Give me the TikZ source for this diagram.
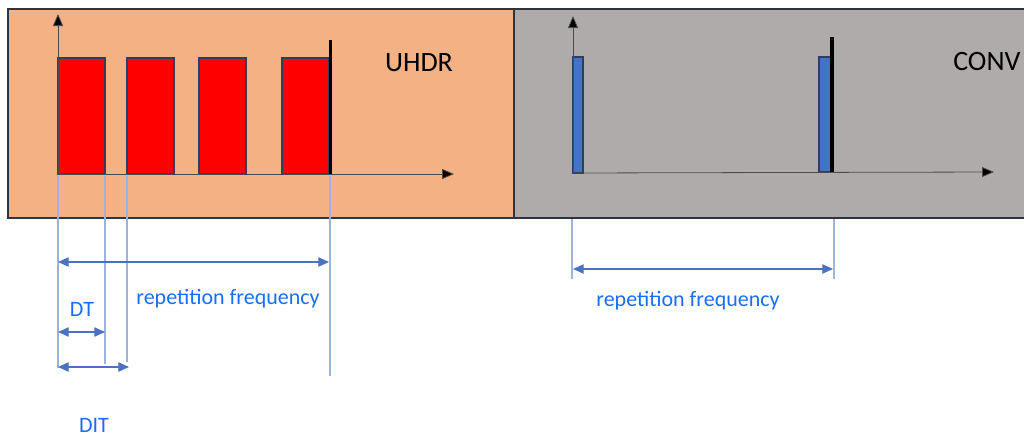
\documentclass[tikz,border=0pt]{standalone}
\usepackage{fontspec}
\setmainfont{Carlito}
\usetikzlibrary{arrows.meta}
\definecolor{panelA}{HTML}{F4B183}
\definecolor{panelB}{HTML}{AFABAB}
\definecolor{frame}{HTML}{2E3440}
\definecolor{pulseA}{HTML}{FF0000}
\definecolor{pulseB}{HTML}{4472C4}
\definecolor{pulseedge}{HTML}{2F3E5C}
\definecolor{guide}{HTML}{9DB3DE}
\definecolor{dimline}{HTML}{4A72C0}
\definecolor{labelblue}{HTML}{1A6EF5}
\tikzset{
  panel/.style={draw=frame, line width=0.9pt},
  axis/.style={draw=black!70, line width=0.6pt, -{Triangle[length=9pt,width=7.5pt,fill=black]}},
  pulse/.style={draw=pulseedge, line width=0.9pt},
  marker/.style={draw=black, line width=2.4pt},
  guideline/.style={draw=guide, line width=0.8pt},
  dimarrow/.style={draw=dimline, line width=0.9pt, {Triangle[length=8pt,width=7pt]}-{Triangle[length=8pt,width=7pt]}},
  title/.style={font=\fontsize{21}{25}\selectfont, text=black, inner sep=0pt},
  dimlabel/.style={font=\fontsize{16.5}{19}\selectfont, text=labelblue, inner sep=0pt}
}
\begin{document}
\begin{tikzpicture}[x=0.75pt, y=-0.75pt]
\useasboundingbox (0,0) rectangle (1024,436);

% panels
\path[panel, fill=panelB] (514,9) rectangle (1030,218);
\path[panel, fill=panelA] (8,9) rectangle (514,218);

% ---- UHDR panel ----
\coordinate (uo) at (58,174);
\coordinate (uy) at (58,14);
\coordinate (ux) at (454,174);
\path[pulse, fill=pulseA] (58,58) rectangle (105,174);
\path[pulse, fill=pulseA] (127,58) rectangle (174,174);
\path[pulse, fill=pulseA] (199,58) rectangle (246,174);
\path[pulse, fill=pulseA] (282,58) rectangle (329,174);
\draw[axis] (uo) -- (uy);
\draw[axis] (uo) -- (ux);
\coordinate (um0) at (330.5,40);
\coordinate (um1) at (330.5,174);
\draw[marker] (um0) -- (um1);
\node[title] (uhdr) at (419,63) {UHDR};

% ---- CONV panel ----
\coordinate (co) at (573,173);
\coordinate (cy) at (573,16);
\coordinate (cx) at (994,172);
\path[pulse, fill=pulseB] (573,57) rectangle (583,173);
\path[pulse, fill=pulseB] (819,57) rectangle (831,172);
\draw[axis] (co) -- (cy);
\draw[axis] (co) -- (cx);
\coordinate (cm0) at (832,37);
\coordinate (cm1) at (832,172);
\draw[marker] (cm0) -- (cm1);
\node[title, anchor=west] (conv) at (953,62) {CONV};

% ---- dimension guides, UHDR ----
\coordinate (g1t) at (58,176);   \coordinate (g1b) at (58,368);
\coordinate (g2t) at (105,176);  \coordinate (g2b) at (105,364);
\coordinate (g3t) at (127,176);  \coordinate (g3b) at (127,362);
\coordinate (g4t) at (330,176);  \coordinate (g4b) at (330,376);
\draw[guideline] (g1t) -- (g1b);
\draw[guideline] (g2t) -- (g2b);
\draw[guideline] (g3t) -- (g3b);
\draw[guideline] (g4t) -- (g4b);

\coordinate (rfL) at (58,262);  \coordinate (rfR) at (329,262);
\coordinate (dtL) at (58,332);  \coordinate (dtR) at (105,332);
\coordinate (ditL) at (58,367); \coordinate (ditR) at (129,367);
\draw[dimarrow] (rfL) -- (rfR);
\draw[dimarrow] (dtL) -- (dtR);
\draw[dimarrow] (ditL) -- (ditR);

\node[dimlabel] (rflabel) at (228,299) {repetition frequency};
\node[dimlabel] (dtlabel) at (82,309) {DT};
\node[dimlabel] (ditlabel) at (94,425) {DIT};

% ---- dimension guides, CONV ----
\coordinate (h1t) at (572,219);  \coordinate (h1b) at (572,279);
\coordinate (h2t) at (834,219);  \coordinate (h2b) at (834,279);
\draw[guideline] (h1t) -- (h1b);
\draw[guideline] (h2t) -- (h2b);
\coordinate (crL) at (573,269);  \coordinate (crR) at (833,269);
\draw[dimarrow] (crL) -- (crR);
\node[dimlabel] (crlabel) at (688,301) {repetition frequency};
\end{tikzpicture}
\end{document}
